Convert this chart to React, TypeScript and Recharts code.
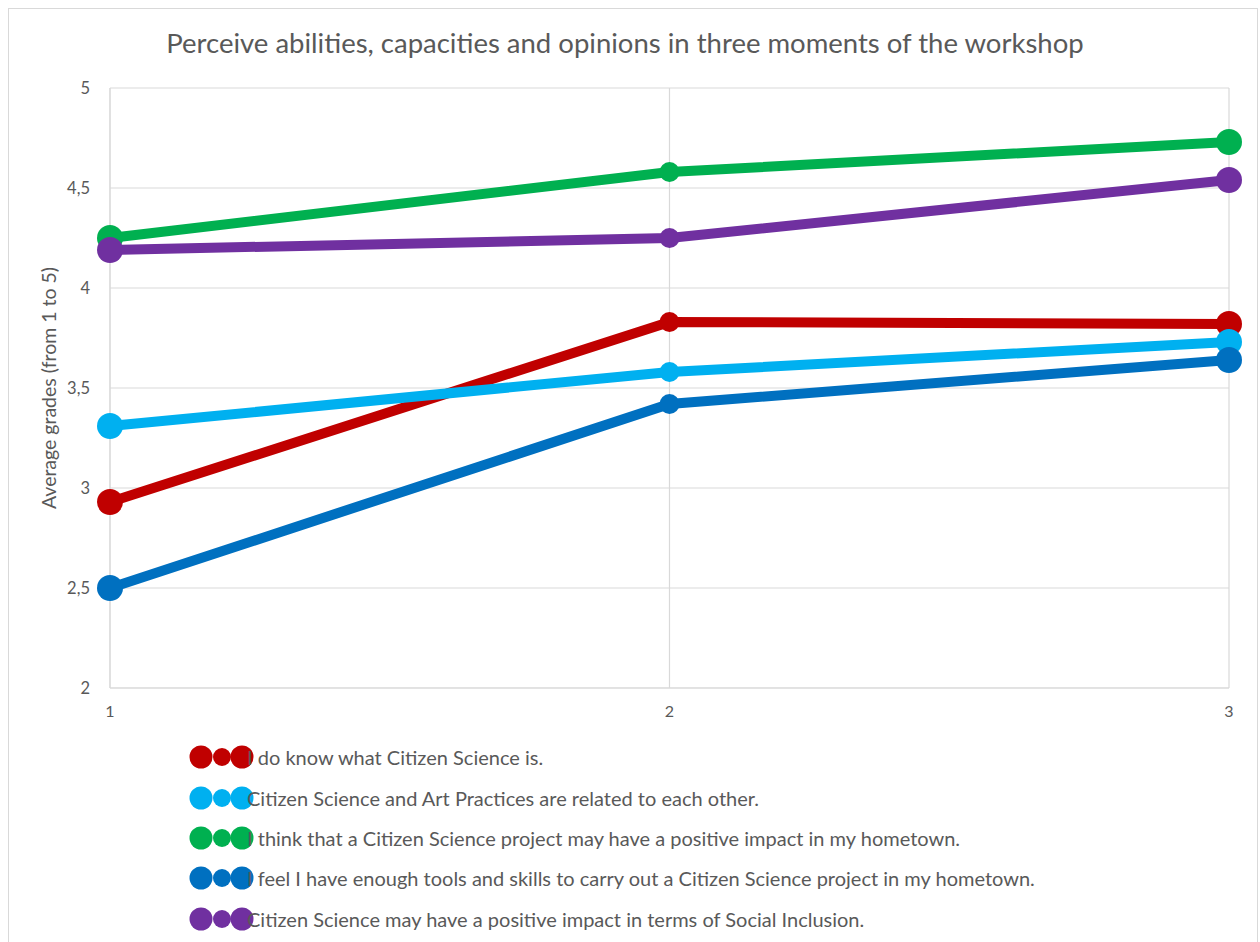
import { LineChart, Line, XAxis, YAxis, CartesianGrid } from "recharts";

const moments = [1, 2, 3];
const seriesNames = [
  "I do know what Citizen Science is.",
  "Citizen Science and Art Practices are related to each other.",
  "I think that a Citizen Science project may have a positive impact in my hometown.",
  "I feel I have enough tools and skills to carry out a Citizen Science project in my hometown.",
  "Citizen Science may have a positive impact in terms of Social Inclusion.",
];
const knowCS = [2.93, 3.83, 3.82];
const relatedArt = [3.31, 3.58, 3.73];
const positiveHometown = [4.25, 4.58, 4.73];
const enoughTools = [2.5, 3.42, 3.64];
const socialInclusion = [4.19, 4.25, 4.54];
const yTicks = [2, 2.5, 3, 3.5, 4, 4.5, 5];

const seriesValues = [knowCS, relatedArt, positiveHometown, enoughTools, socialInclusion];
const colors = ["#C00000", "#00B0F0", "#00B050", "#0070C0", "#7030A0"];
const keys = ["s0", "s1", "s2", "s3", "s4"];

const data = moments.map((m, i) => {
  const row: Record<string, number> = { moment: m };
  seriesValues.forEach((vals, k) => {
    row[keys[k]] = vals[i];
  });
  return row;
});

const font = "Lato, 'Open Sans', sans-serif";
const textColor = "#595959";

function makeDot(color: string) {
  return (props: any) => {
    const { cx, cy, index } = props;
    const r = index === 1 ? 10 : 13;
    return <circle key={`d-${index}`} cx={cx} cy={cy} r={r} fill={color} stroke="none" />;
  };
}

function YTitle(props: any) {
  const { viewBox } = props;
  const cy = viewBox.y + viewBox.height / 2;
  return (
    <text
      x={48}
      y={cy}
      transform={`rotate(-90, 48, ${cy})`}
      textAnchor="middle"
      dominantBaseline="central"
      fill={textColor}
      fontSize={19.5}
      fontFamily={font}
    >
      Average grades (from 1 to 5)
    </text>
  );
}

export default function App() {
  return (
    <div style={{ position: "absolute", left: 0, top: 0, width: 1260, height: 942, overflow: "hidden", background: "#fff" }}>
      <div
        style={{
          position: "absolute",
          left: 8,
          top: 8,
          width: 1250,
          height: 980,
          border: "1.5px solid #d9d9d9",
          boxSizing: "border-box",
        }}
      />
      <div
        style={{
          position: "absolute",
          left: 0,
          top: 26,
          width: 1250,
          textAlign: "center",
          fontFamily: font,
          fontSize: 27.5,
          color: textColor,
        }}
      >
        Perceive abilities, capacities and opinions in three moments of the workshop
      </div>
      <div style={{ position: "absolute", left: 0, top: 0 }}>
        <LineChart width={1260} height={942} data={data} margin={{ top: 88, right: 31, bottom: 224, left: 50 }}>
          <CartesianGrid stroke="#d9d9d9" strokeWidth={1.2} />
          <XAxis
            dataKey="moment"
            type="number"
            domain={[1, 3]}
            ticks={moments}
            height={30}
            axisLine={{ stroke: "#d9d9d9" }}
            tickLine={false}
            tick={{ fill: textColor, fontSize: 16, fontFamily: font }}
            tickMargin={12}
          />
          <YAxis
            type="number"
            domain={[2, 5]}
            ticks={yTicks}
            width={60}
            axisLine={{ stroke: "#d9d9d9" }}
            tickLine={false}
            tick={{ fill: textColor, fontSize: 16.5, fontFamily: font }}
            tickFormatter={(v: number) => String(v).replace(".", ",")}
            tickMargin={14}
            label={<YTitle />}
          />
          {keys.map((k, i) => (
            <Line
              key={k}
              dataKey={k}
              name={seriesNames[i]}
              stroke={colors[i]}
              strokeWidth={10}
              dot={makeDot(colors[i])}
              activeDot={false}
              isAnimationActive={false}
            />
          ))}
        </LineChart>
      </div>
      <div style={{ position: "absolute", left: 188, top: 737 }}>
        {seriesNames.map((name, i) => (
          <div key={name} style={{ display: "flex", alignItems: "center", height: 40.4 }}>
            <svg width={66} height={26} style={{ flex: "none" }}>
              <circle cx={13} cy={13} r={11.5} fill={colors[i]} />
              <circle cx={54} cy={13} r={11.5} fill={colors[i]} />
              <circle cx={34} cy={13} r={9} fill={colors[i]} />
            </svg>
            <span
              style={{
                marginLeft: -7,
                fontFamily: font,
                fontSize: 20,
                color: textColor,
                whiteSpace: "nowrap",
              }}
            >
              {name}
            </span>
          </div>
        ))}
      </div>
    </div>
  );
}
